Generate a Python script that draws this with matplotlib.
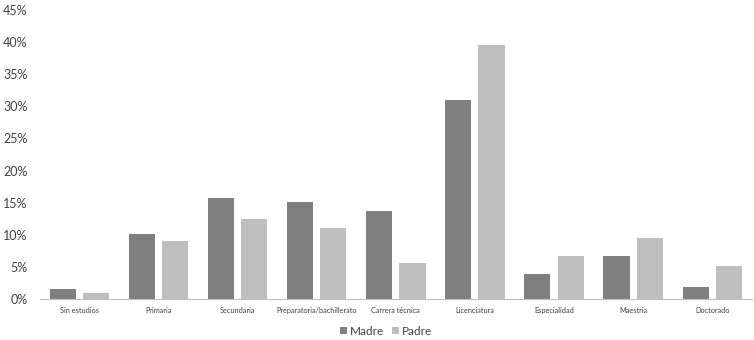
import matplotlib
matplotlib.use("Agg")
import matplotlib.pyplot as plt
import numpy as np

categorias = ["Sin estudios", "Primaria", "Secundaria", "Preparatoria/bachillerato",
              "Carrera técnica", "Licenciatura", "Especialidad", "Maestria", "Doctorado"]
madre = [1.6, 10.1, 15.7, 15.1, 13.7, 31.0, 3.9, 6.7, 1.9]
padre = [0.9, 9.0, 12.5, 11.1, 5.6, 39.6, 6.7, 9.5, 5.1]

plt.rcParams['font.family'] = ['Lato', 'DejaVu Sans']

fig = plt.figure(figsize=(7.54, 3.4), dpi=100)
ax = fig.add_axes([0.053, 0.1206, 0.944, 0.85])

x = np.arange(len(categorias))
w = 0.33
ax.bar(x - 0.21, madre, w, color='#7f7f7f', label='Madre')
ax.bar(x + 0.21, padre, w, color='#bfbfbf', label='Padre')

ax.set_xlim(-0.5, len(categorias) - 0.5)
ax.set_ylim(0, 45)
ax.set_yticks(range(0, 50, 5))
ax.set_yticklabels([f"{v}%" for v in range(0, 50, 5)], fontsize=9, color='#404040')
ax.set_xticks(x)
ax.set_xticklabels(categorias, fontsize=5.3, color='#404040')
ax.tick_params(axis='both', length=0)
ax.tick_params(axis='x', pad=6)
ax.tick_params(axis='y', pad=9)

for s in ['top', 'right', 'left']:
    ax.spines[s].set_visible(False)
ax.spines['bottom'].set_color('#bfbfbf')

fig.legend(loc='center', bbox_to_anchor=(0.512, 0.026), ncol=2, frameon=False,
           fontsize=8.5, handlelength=0.6, handleheight=0.6, handletextpad=0.25,
           columnspacing=0.6, labelcolor='#404040')

fig.savefig("out.png", dpi=100)
